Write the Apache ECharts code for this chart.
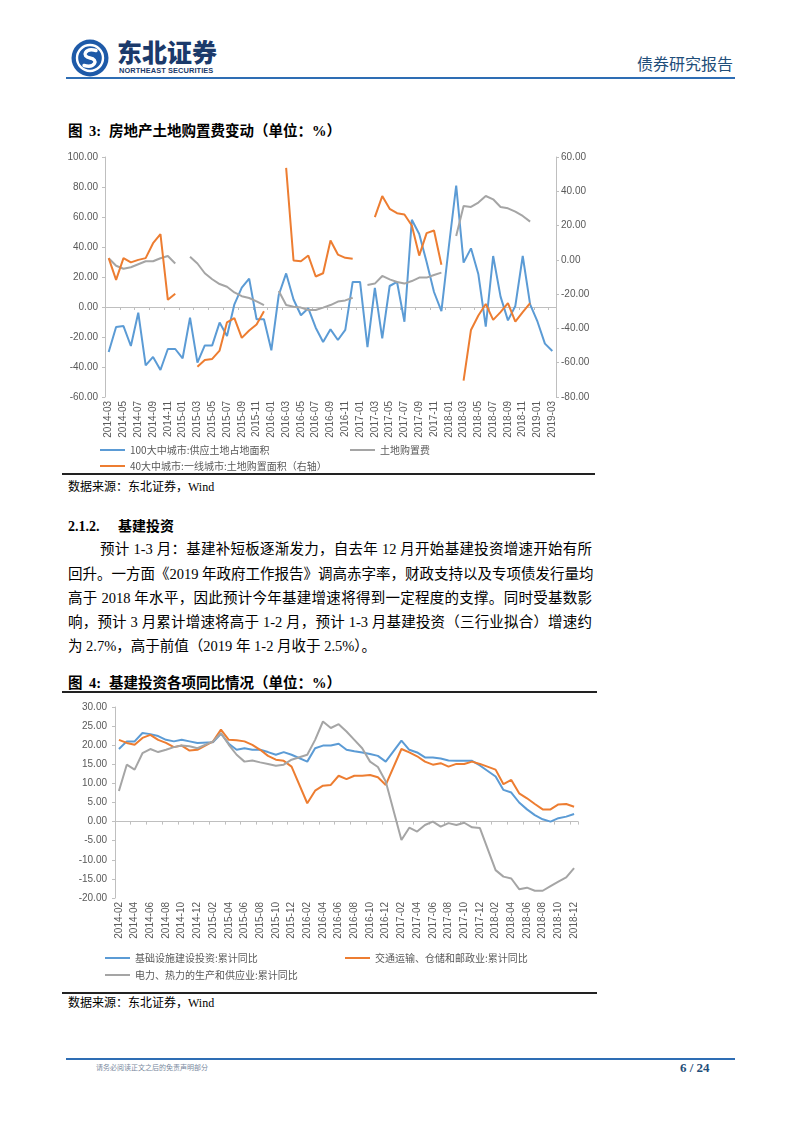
<!DOCTYPE html>
<html><head><meta charset="utf-8">
<script src="https://cdn.jsdelivr.net/npm/echarts/dist/echarts.min.js"></script>
<style>
body{margin:0;width:802px;height:1133px;background:#fff;position:relative;overflow:hidden;font-family:"Liberation Serif","Noto Sans CJK SC",serif;color:#000}
.a{position:absolute;white-space:nowrap}
.rule{position:absolute;background:#222}
.para{position:absolute;height:20px;line-height:20px;font-size:14.5px;text-align:justify;text-align-last:justify;white-space:nowrap;overflow:visible}
.ttl{position:absolute;white-space:nowrap;font-weight:bold;font-size:14.5px;line-height:20px}
</style></head>
<body>
<svg class="a" style="left:70px;top:38px" width="40" height="40" viewBox="0 0 40 40">
 <circle cx="20" cy="20" r="18.5" fill="#1E5AA8"/>
 <circle cx="20" cy="20" r="13" fill="none" stroke="#fff" stroke-width="2.4"/>
 <path d="M26 12.5 C 15 9.5, 11 18.5, 20 20 C 29 21.5, 25 30.5, 14 27.5" fill="none" stroke="#fff" stroke-width="3.4" stroke-linecap="round"/>
</svg>
<div class="a" style="left:117px;top:36px;font-family:'Noto Sans CJK SC';font-weight:900;font-size:25px;line-height:30px;color:#1B3A6B">东北证券</div>
<div class="a" style="left:119px;top:66px;font-family:'Liberation Sans';font-weight:bold;font-size:7.4px;line-height:9px;color:#1B3A6B;letter-spacing:0.1px">NORTHEAST SECURITIES</div>
<div class="a" style="left:637px;top:52px;font-family:'Noto Sans CJK SC';font-size:16px;line-height:22px;color:#1F4E79">债券研究报告</div>
<div class="a" style="left:66px;top:77px;width:669px;height:2px;background:#2E6DB4"></div>

<div class="ttl" style="left:68px;top:121px">图</div>
<div class="ttl" style="left:89px;top:121px">3:</div>
<div class="ttl" style="left:109px;top:121px">房地产土地购置费变动（单位：%）</div>

<div id="c1" style="position:absolute;left:62px;top:145px;width:540px;height:328px"></div>
<div class="rule" style="left:62px;top:473px;width:533px;height:2px"></div>
<div class="a" style="left:68px;top:479px;font-size:12px;line-height:16px">数据来源：东北证券，Wind</div>

<div class="a" style="left:68px;top:517px;font-weight:bold;font-size:14px;line-height:20px">2.1.2.</div>
<div class="a" style="left:118px;top:517px;font-weight:bold;font-size:14px;line-height:20px">基建投资</div>

<div class="para" style="left:100px;top:539px;width:492px">预计 1-3 月：基建补短板逐渐发力，自去年 12 月开始基建投资增速开始有所</div>
<div class="para" style="left:68px;top:564px;width:524px">回升。一方面《2019 年政府工作报告》调高赤字率，财政支持以及专项债发行量均</div>
<div class="para" style="left:68px;top:588px;width:524px">高于 2018 年水平，因此预计今年基建增速将得到一定程度的支撑。同时受基数影</div>
<div class="para" style="left:68px;top:612px;width:524px">响，预计 3 月累计增速将高于 1-2 月，预计 1-3 月基建投资（三行业拟合）增速约</div>
<div class="para" style="left:68px;top:636px;text-align:left;text-align-last:left">为 2.7%，高于前值（2019 年 1-2 月收于 2.5%）。</div>

<div class="ttl" style="left:68px;top:673px">图</div>
<div class="ttl" style="left:89px;top:673px">4:</div>
<div class="ttl" style="left:109px;top:673px">基建投资各项同比情况（单位：%）</div>
<div class="rule" style="left:62px;top:691px;width:535px;height:2px"></div>
<div id="c2" style="position:absolute;left:62px;top:695px;width:540px;height:296px"></div>
<div class="rule" style="left:62px;top:992px;width:535px;height:1.5px"></div>
<div class="a" style="left:68px;top:995px;font-size:12px;line-height:16px">数据来源：东北证券，Wind</div>

<div class="a" style="left:66px;top:1058px;width:669px;height:2px;background:#2E6DB4"></div>
<div class="a" style="left:96px;top:1063px;font-family:'Noto Sans CJK SC';font-size:7px;line-height:9px;color:#7a8aa0">请务必阅读正文之后的免责声明部分</div>
<div class="a" style="left:680px;top:1059px;font-weight:bold;font-size:13px;line-height:18px;color:#1F4E79">6 / 24</div>

<script>
// ---------- Figure 3 data ----------
const months1 = ["2014-03","2014-04","2014-05","2014-06","2014-07","2014-08","2014-09","2014-10","2014-11","2014-12",
"2015-01","2015-02","2015-03","2015-04","2015-05","2015-06","2015-07","2015-08","2015-09","2015-10","2015-11","2015-12",
"2016-01","2016-02","2016-03","2016-04","2016-05","2016-06","2016-07","2016-08","2016-09","2016-10","2016-11","2016-12",
"2017-01","2017-02","2017-03","2017-04","2017-05","2017-06","2017-07","2017-08","2017-09","2017-10","2017-11","2017-12",
"2018-01","2018-02","2018-03","2018-04","2018-05","2018-06","2018-07","2018-08","2018-09","2018-10","2018-11","2018-12",
"2019-01","2019-02","2019-03"];
const supplyArea100 = [-30, -13.3, -12.7, -26, -3.8, -38.9, -33.3, -42, -28, -28,
 -34.2, -7.1, -37.1, -25.6, -25.6, -10.4, -19.3, 1.8, 12.9, 18.9, -8.2, -8.2,
 -28.9, 8, 22.4, 5, -5.5, -0.9, -13.8, -23.3, -14.9, -22, -15.3, 16.7,
 16.7, -26.7, 12.7, -20.9, 14, 16.7, -9.8, 58.2, 48.7, 30, 10, -2.7,
 40, 81, 29.6, 39.1, 21.8, -13.1, 34, 6.9, -8.9, 0.7, 34, 1.8,
 -9.8, -24.4, -29.3];
const landFee = [32.5, 27.5, 25.5, 26.5, 28.5, 30.5, 30.5, 32.5, 34, 29,
 null, 33.5, 29, 22.5, 18.5, 15.3, 13.5, 9.7, 7.2, 6, 3.8, 1.2,
 null, 10.7, 1.3, 0.2, -0.4, -2, -2, -0.4, 1.3, 3.6, 4.4, 6.2,
 null, 14.7, 15.6, 20.7, 18.4, 16.7, 15.6, 17.3, 19.6, 19.6, 21.3, 22.9,
 null, 47.3, 67.3, 66.7, 69.6, 74, 71.8, 66.7, 65.8, 63.6, 60.7, 56.9,
 null, null, null];
const tier1Area40 = [1, -11.7, 1, -1.5, 0, 1, 9.7, 15, -23.3, -19.8,
 null, null, -62.3, -58.4, -57.8, -52.9, -36.4, -34, -45.5, -41.2, -37.7, -30,
 null, null, 53.7, -0.4, -0.8, 2.5, -9.7, -7.8, 11.3, 3.1, 1.2, 0.6,
 null, null, 24.9, 37.2, 29.8, 27.2, 26.5, 20, 2.5, 15.6, 17.1, -2.9,
 null, null, -70.4, -40.9, -32.5, -25.7, -35, -30.5, -25.3, -36, -30.5, -25.3,
 null, null, null];
const names1 = ["100大中城市:供应土地占地面积", "土地购置费", "40大中城市:一线城市:土地购置面积（右轴）"];
const leftTicks1 = {min: -60, max: 100, step: 20};
const rightTicks1 = {min: -80, max: 60, step: 20};

// ---------- Figure 4 data ----------
const months2 = ["2014-02","2014-03","2014-04","2014-05","2014-06","2014-07","2014-08","2014-09","2014-10","2014-11","2014-12",
"2015-01","2015-02","2015-03","2015-04","2015-05","2015-06","2015-07","2015-08","2015-09","2015-10","2015-11","2015-12",
"2016-01","2016-02","2016-03","2016-04","2016-05","2016-06","2016-07","2016-08","2016-09","2016-10","2016-11","2016-12",
"2017-01","2017-02","2017-03","2017-04","2017-05","2017-06","2017-07","2017-08","2017-09","2017-10","2017-11","2017-12",
"2018-01","2018-02","2018-03","2018-04","2018-05","2018-06","2018-07","2018-08","2018-09","2018-10","2018-11","2018-12"];
const infraYoY = [19.0, 21.0, 21.0, 23.2, 22.9, 22.4, 21.4, 21.0, 21.4, 21.0, 20.6,
 null, 20.8, 23.0, 20.4, 18.8, 19.2, 18.8, 18.8, 18.2, 17.5, 18.2, 17.5,
 null, 15.7, 19.2, 19.9, 19.9, 20.4, 18.8, 18.4, 18.1, 17.7, 17.2, 15.7,
 null, 21.2, 18.8, 18.1, 16.8, 16.8, 16.5, 16.0, 15.9, 15.9, 15.9, 14.7,
 null, 11.8, 8.3, 7.6, 5.0, 3.2, 1.7, 0.6, 0.0, 0.9, 1.3, 2.0];
const transportYoY = [21.4, 20.6, 20.1, 21.9, 22.7, 21.4, 20.6, 19.5, 19.9, 18.6, 18.8,
 null, 21.0, 24.1, 21.4, 21.3, 21.0, 20.1, 18.8, 17.2, 16.2, 15.9, 14.4,
 null, 4.8, 8.1, 9.4, 9.6, 12.0, 11.1, 12.0, 12.0, 12.2, 11.6, 9.6,
 null, 19.0, 18.1, 17.1, 15.7, 14.9, 15.3, 14.4, 15.1, 15.1, 15.7, 15.1,
 null, 13.6, 9.8, 10.9, 7.4, 6.1, 4.6, 3.2, 3.2, 4.5, 4.6, 3.9];
const powerYoY = [8.0, 14.9, 13.6, 17.9, 19.0, 18.2, 18.8, 19.5, 19.9, 19.7, 19.2,
 null, 21.0, 23.2, 20.1, 17.5, 15.7, 16.0, 15.5, 15.1, 14.6, 14.9, 16.2,
 null, 17.5, 21.4, 26.2, 24.5, 25.5, 23.6, 21.4, 19.2, 15.7, 14.3, 10.5,
 null, -4.8, -1.6, -2.6, -0.9, 0, -1.3, -0.4, -0.9, -0.3, -1.5, -1.7,
 null, -12.7, -14.4, -14.9, -17.7, -17.3, -18.1, -18.1, -16.9, -15.7, -14.6, -12.2];
const names2 = ["基础设施建设投资:累计同比", "交通运输、仓储和邮政业:累计同比", "电力、热力的生产和供应业:累计同比"];
const ticks2 = {min: -20, max: 30, step: 5};

// ---------- styling ----------
const BLUE = '#5B9BD5', ORANGE = '#ED7D31', GRAY = '#A5A5A5', AX = '#BFBFBF', TXT = '#595959';
const lbl = {color: TXT, fontSize: 10, fontFamily: 'Liberation Sans'};
const fmt = v => v.toFixed(2);
const legendBase = {icon: 'rect', itemWidth: 25, itemHeight: 2, selectedMode: false,
  textStyle: {color: TXT, fontSize: 10, fontFamily: 'Noto Sans CJK SC'}};
function lineSeries(name, data, color, yIdx, connect) {
  return {name, type: 'line', data, yAxisIndex: yIdx, symbol: 'none', connectNulls: connect,
    lineStyle: {color, width: 2}, itemStyle: {color}, emphasis: {disabled: true}};
}
function xAxes(cats, labelMargin) {
  return [
    {type: 'category', data: cats, boundaryGap: true, position: 'bottom',
     axisLine: {show: false, onZero: false}, axisTick: {show: false},
     axisLabel: Object.assign({interval: 1, rotate: 90, margin: labelMargin}, lbl)},
    {type: 'category', data: cats, boundaryGap: true, position: 'bottom',
     axisLine: {show: true, onZero: true, onZeroAxisIndex: 0, lineStyle: {color: AX, width: 1}},
     axisTick: {show: true, interval: 1, length: 3, lineStyle: {color: AX}},
     axisLabel: {show: false}}
  ];
}
function yAxis(t, pos, margin) {
  return {type: 'value', min: t.min, max: t.max, interval: t.step, position: pos,
    axisLine: {show: true, lineStyle: {color: AX}}, axisTick: {show: true, length: 3, lineStyle: {color: AX}},
    splitLine: {show: false}, axisLabel: Object.assign({formatter: fmt, margin}, lbl)};
}

const c1 = echarts.init(document.getElementById('c1'));
c1.setOption({
  animation: false,
  grid: {left: 43, top: 12, width: 451, height: 240, outerBoundsMode: 'none'},
  legend: [
    Object.assign({data: [names1[0]], left: 33, top: 295}, legendBase),
    Object.assign({data: [names1[1]], left: 283, top: 295}, legendBase),
    Object.assign({data: [names1[2]], left: 33, top: 311}, legendBase)
  ],
  xAxis: xAxes(months1, 4),
  yAxis: [yAxis(leftTicks1, 'left', 7), yAxis(rightTicks1, 'right', 5)],
  series: [
    lineSeries(names1[0], supplyArea100, BLUE, 0, false),
    lineSeries(names1[1], landFee, GRAY, 0, false),
    lineSeries(names1[2], tier1Area40, ORANGE, 1, false)
  ]
});

const c2 = echarts.init(document.getElementById('c2'));
c2.setOption({
  animation: false,
  grid: {left: 53, top: 12, width: 463, height: 191, outerBoundsMode: 'none'},
  legend: [
    Object.assign({data: [names2[0]], left: 38, top: 253}, legendBase),
    Object.assign({data: [names2[1]], left: 278, top: 253}, legendBase),
    Object.assign({data: [names2[2]], left: 38, top: 270}, legendBase)
  ],
  xAxis: xAxes(months2, 4),
  yAxis: [yAxis(ticks2, 'left', 8)],
  series: [
    lineSeries(names2[0], infraYoY, BLUE, 0, true),
    lineSeries(names2[1], transportYoY, ORANGE, 0, true),
    lineSeries(names2[2], powerYoY, GRAY, 0, true)
  ]
});
</script>
</body></html>
